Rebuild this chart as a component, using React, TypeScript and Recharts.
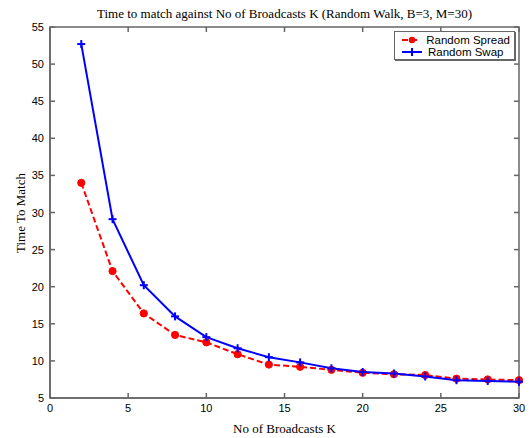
import { Legend, Line, LineChart, ReferenceArea, XAxis, YAxis } from "recharts";

// Number of broadcasts K
const K = [2, 4, 6, 8, 10, 12, 14, 16, 18, 20, 22, 24, 26, 28, 30];
// Time to match per series
const RANDOM_SPREAD = [34.0, 22.1, 16.4, 13.5, 12.5, 10.9, 9.5, 9.2, 8.8, 8.4, 8.2, 8.1, 7.6, 7.5, 7.4];
const RANDOM_SWAP = [52.7, 29.1, 20.2, 16.0, 13.2, 11.7, 10.5, 9.8, 9.0, 8.5, 8.3, 7.9, 7.4, 7.3, 7.2];

const X_TICKS = [0, 5, 10, 15, 20, 25, 30];
const Y_TICKS = [5, 10, 15, 20, 25, 30, 35, 40, 45, 50, 55];

const TITLE = "Time to match against No of Broadcasts K (Random Walk, B=3, M=30)";
const X_LABEL = "No of Broadcasts K";
const Y_LABEL = "Time To Match";

const data = K.map((k, i) => ({ k, spread: RANDOM_SPREAD[i], swap: RANDOM_SWAP[i] }));

// layout of the plot box
const W = 531;
const H = 438;
const LEFT = 50;
const RIGHT = 519;
const TOP = 27;
const BOTTOM = 398;
const TICK_LEN = 5;

const AXIS_COLOR = "#666666";
const AXIS_WIDTH = 1.5;
const SANS = "'Liberation Sans', Arial, sans-serif";
const SERIF = "'Liberation Serif', 'Times New Roman', serif";

type TickProps = { index?: number; payload?: { value: number; coordinate: number } };

// bottom tick + label, plus the matching inward tick on the top edge
const XTick = ({ payload, index }: TickProps) => {
	const c = payload?.coordinate ?? 0;
	return (
		<g key={`x-${index}`}>
			<line x1={c} x2={c} y1={BOTTOM} y2={BOTTOM - TICK_LEN} stroke={AXIS_COLOR} strokeWidth={AXIS_WIDTH} />
			<line x1={c} x2={c} y1={TOP} y2={TOP + TICK_LEN} stroke={AXIS_COLOR} strokeWidth={AXIS_WIDTH} />
			<text x={c} y={BOTTOM + 14} textAnchor="middle" fontFamily={SANS} fontSize={11} fill="#000">
				{payload?.value}
			</text>
		</g>
	);
};

// left tick + label, plus the matching inward tick on the right edge
const YTick = ({ payload, index }: TickProps) => {
	const c = payload?.coordinate ?? 0;
	return (
		<g key={`y-${index}`}>
			<line x1={LEFT} x2={LEFT + TICK_LEN} y1={c} y2={c} stroke={AXIS_COLOR} strokeWidth={AXIS_WIDTH} />
			<line x1={RIGHT} x2={RIGHT - TICK_LEN} y1={c} y2={c} stroke={AXIS_COLOR} strokeWidth={AXIS_WIDTH} />
			<text x={LEFT - 6} y={c + 4} textAnchor="end" fontFamily={SANS} fontSize={11} fill="#000">
				{payload?.value}
			</text>
		</g>
	);
};

const PlusDot = (props: { cx?: number; cy?: number; index?: number }) => {
	const { cx, cy, index } = props;
	if (cx == null || cy == null) return <g key={`p-${index}`} />;
	return (
		<g key={`p-${index}`}>
			<line x1={cx - 4} x2={cx + 4} y1={cy} y2={cy} stroke="#0000ff" strokeWidth={2} />
			<line x1={cx} x2={cx} y1={cy - 4} y2={cy + 4} stroke="#0000ff" strokeWidth={2} />
		</g>
	);
};

const CircleDot = (props: { cx?: number; cy?: number; index?: number }) => {
	const { cx, cy, index } = props;
	if (cx == null || cy == null) return <g key={`c-${index}`} />;
	return <circle key={`c-${index}`} cx={cx} cy={cy} r={3.6} fill="#ff0000" stroke="#ff0000" />;
};

function LegendBox() {
	const row = { display: "flex", alignItems: "center", height: 12, whiteSpace: "nowrap" } as const;
	return (
		<div
			style={{
				boxSizing: "border-box",
				border: `1px solid ${AXIS_COLOR}`,
				boxShadow: "1px 1px 0 #666",
				background: "#fff",
				padding: "2px 4px 2px 7px",
				fontFamily: SANS,
				fontSize: 11.5,
				lineHeight: "12px",
				color: "#000",
				width: 121,
				height: 29,
			}}
		>
			<div style={row}>
				<svg width={20} height={10}>
					<line x1={0} x2={20} y1={5} y2={5} stroke="#ff0000" strokeWidth={2} strokeDasharray="6 3" />
					<circle cx={10} cy={5} r={3.2} fill="#ff0000" />
				</svg>
				<span style={{ marginLeft: 6 }}>Random Spread</span>
			</div>
			<div style={row}>
				<svg width={20} height={10}>
					<line x1={0} x2={20} y1={5} y2={5} stroke="#0000ff" strokeWidth={2} />
					<line x1={10} x2={10} y1={1} y2={9} stroke="#0000ff" strokeWidth={2} />
				</svg>
				<span style={{ marginLeft: 6 }}>Random Swap</span>
			</div>
		</div>
	);
}

export default function App() {
	return (
		<div style={{ position: "absolute", left: 0, top: 0, width: W, height: H, background: "#fff" }}>
			<LineChart width={W} height={H} data={data} margin={{ top: TOP, right: W - RIGHT, bottom: 0, left: 0 }}>
				<ReferenceArea
					x1={0}
					x2={30}
					y1={5}
					y2={55}
					ifOverflow="visible"
					fill="none"
					stroke={AXIS_COLOR}
					strokeWidth={AXIS_WIDTH}
					strokeOpacity={1}
				/>
				<XAxis
					dataKey="k"
					type="number"
					domain={[0, 30]}
					ticks={X_TICKS}
					height={H - BOTTOM}
					axisLine={{ stroke: AXIS_COLOR, strokeWidth: AXIS_WIDTH }}
					tickLine={false}
					tickSize={0}
					tick={XTick}
					label={{
						content: () => (
							<g>
								<text x={(LEFT + RIGHT) / 2} y={433} textAnchor="middle" fontFamily={SERIF} fontSize={13} fill="#000">
									{X_LABEL}
								</text>
								<text x={(LEFT + RIGHT) / 2} y={18} textAnchor="middle" fontFamily={SERIF} fontSize={13} fill="#000">
									{TITLE}
								</text>
							</g>
						),
					}}
				/>
				<YAxis
					type="number"
					domain={[5, 55]}
					ticks={Y_TICKS}
					width={LEFT}
					axisLine={{ stroke: AXIS_COLOR, strokeWidth: AXIS_WIDTH }}
					tickLine={false}
					tickSize={0}
					tick={YTick}
					label={{
						content: () => (
							<text
								x={25}
								y={213}
								transform="rotate(-90 25 213)"
								textAnchor="middle"
								fontFamily={SERIF}
								fontSize={13}
								fill="#000"
							>
								{Y_LABEL}
							</text>
						),
					}}
				/>
				<Legend
					layout="horizontal"
					align="center"
					verticalAlign="middle"
					wrapperStyle={{ top: 31, left: 394, width: 121, height: 29 }}
					content={() => <LegendBox />}
				/>
				<Line
					type="linear"
					dataKey="spread"
					name="Random Spread"
					stroke="#ff0000"
					strokeWidth={2}
					strokeDasharray="6 3"
					dot={CircleDot}
					activeDot={false}
					isAnimationActive={false}
				/>
				<Line
					type="linear"
					dataKey="swap"
					name="Random Swap"
					stroke="#0000ff"
					strokeWidth={2}
					dot={PlusDot}
					activeDot={false}
					isAnimationActive={false}
				/>
			</LineChart>
		</div>
	);
}
